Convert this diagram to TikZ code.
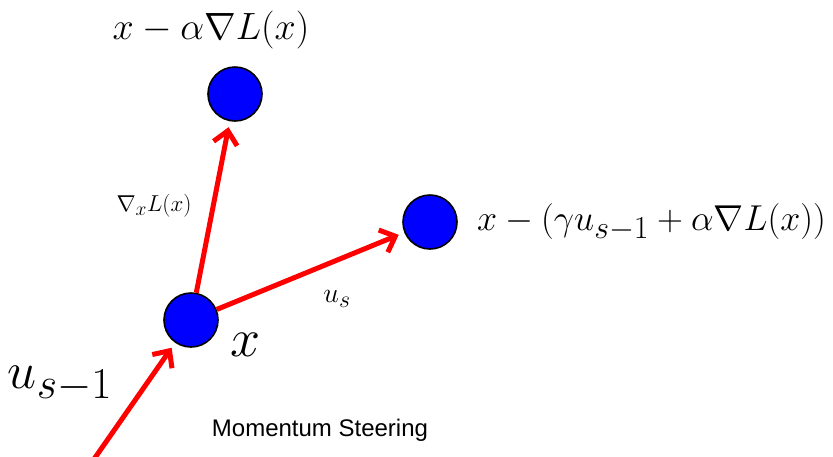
\RequirePackage{fix-cm}
\documentclass[tikz,border=0pt]{standalone}
\usepackage{amsmath,amssymb}
\usepackage{fontspec}
\newfontfamily\helv{Liberation Sans}
\usetikzlibrary{arrows.meta,positioning}
\DeclareMathSizes{38}{38}{34}{27}
\DeclareMathSizes{36}{36}{32}{25}
\DeclareMathSizes{52}{52}{44}{35}
\DeclareMathSizes{54}{54}{46}{36}
\DeclareMathSizes{28}{28}{24}{19}
\DeclareMathSizes{23}{23}{19.5}{15}

\begin{document}
\begin{tikzpicture}[x=1pt,y=-1pt,
      point/.style={circle,draw=black,line width=1.6pt,fill=blue,
                    minimum size=54pt,inner sep=0pt},
      move/.style={draw=red,line width=5pt,
                   -{Straight Barb[length=13pt,width=24pt]},shorten >=6pt},
      lbl/.style={inner sep=0pt}]
    \clip (0,0) rectangle (833,456);
    \node[point] (x) at (191,320) {};
    \node[point] (gd) at (235,94) {};
    \node[point] (mom) at (430,222) {};
    \coordinate (prev) at (92,462);
    % labels
    \node[lbl,font=\fontsize{38}{42}\selectfont] (gdlbl) at (211,30) {$x-\alpha\nabla L(x)$};
    \node[lbl,font=\fontsize{36}{40}\selectfont,anchor=west] (momlbl) at (477,222)
      {$x-(\gamma u_{s-1}+\alpha\nabla L(x))$};
    \node[lbl,font=\fontsize{23}{26}\selectfont] (gradlbl) at (154,206) {$\nabla_x L(x)$};
    \node[lbl,font=\fontsize{28}{30}\selectfont] (uslbl) at (337,299) {$u_s$};
    \node[lbl,font=\fontsize{54}{58}\selectfont] (xlbl) at (246,345) {$x$};
    \node[lbl,font=\fontsize{52}{56}\selectfont] (uprevlbl) at (60,384) {$u_{s-1}$};
    \node[lbl,font=\helv\fontsize{24}{28}\selectfont] (title) at (320,430) {Momentum Steering};
    % steps
    \draw[move] (x) -- (gd);
    \draw[move] (x) -- (mom);
    \draw[move] (prev) -- (x);
\end{tikzpicture}
\end{document}
